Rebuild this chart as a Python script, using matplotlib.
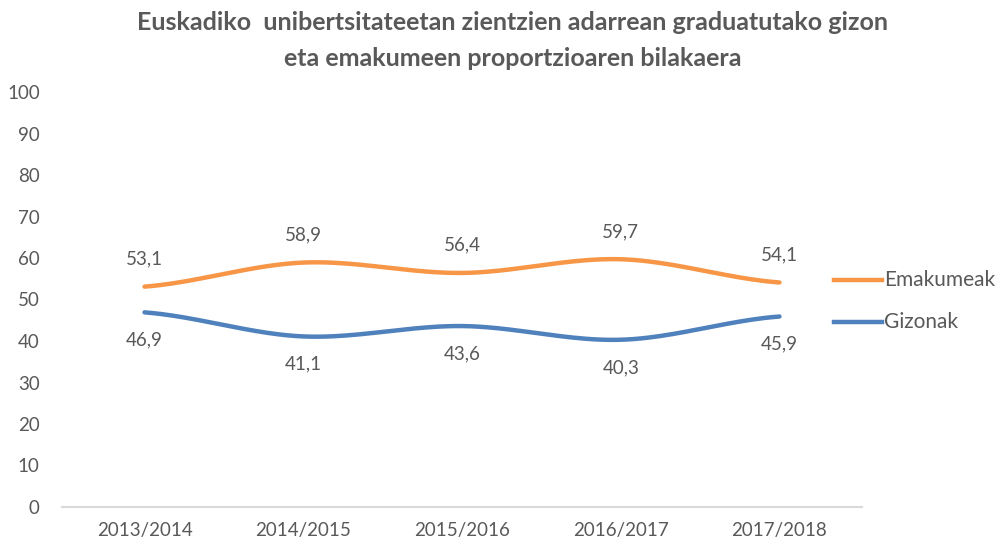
import numpy as np
import matplotlib.pyplot as plt

plt.rcParams['font.family'] = ['Lato', 'DejaVu Sans']

years = ['2013/2014', '2014/2015', '2015/2016', '2016/2017', '2017/2018']
emakumeak = [53.1, 58.9, 56.4, 59.7, 54.1]
gizonak = [46.9, 41.1, 43.6, 40.3, 45.9]

ORANGE = '#F79646'
BLUE = '#4F81BD'
GRAY = '#595959'


def smooth(y, n=40):
    # catmull-rom like excel's smoothed lines
    y = np.asarray(y, float)
    p = np.concatenate([[y[0]], y, [y[-1]]])
    xs, ys = [], []
    for i in range(len(y) - 1):
        p0, p1, p2, p3 = p[i], p[i + 1], p[i + 2], p[i + 3]
        t = np.linspace(0, 1, n, endpoint=False)
        v = 0.5 * ((2 * p1) + (-p0 + p2) * t + (2 * p0 - 5 * p1 + 4 * p2 - p3) * t ** 2
                   + (-p0 + 3 * p1 - 3 * p2 + p3) * t ** 3)
        xs.append(i + t)
        ys.append(v)
    xs.append([len(y) - 1])
    ys.append([y[-1]])
    return np.concatenate(xs), np.concatenate(ys)


fig = plt.figure(figsize=(10.05, 5.46), dpi=100)
ax = fig.add_axes([62 / 1005, 39 / 546, 800 / 1005, 415 / 546])

x = np.arange(len(years))
sx, sy = smooth(emakumeak)
ax.plot(sx, sy, color=ORANGE, lw=3.2, solid_capstyle='round')
sx, sy = smooth(gizonak)
ax.plot(sx, sy, color=BLUE, lw=3.2, solid_capstyle='round')

for i, v in enumerate(emakumeak):
    ax.annotate(f'{v:.1f}'.replace('.', ','), (x[i], v), xytext=(0, 20), textcoords='offset points',
                ha='center', va='center', fontsize=13.5, color=GRAY)
for i, v in enumerate(gizonak):
    ax.annotate(f'{v:.1f}'.replace('.', ','), (x[i], v), xytext=(0, -20), textcoords='offset points',
                ha='center', va='center', fontsize=13.5, color=GRAY)

ax.set_xlim(-0.52, len(years) - 0.48)
ax.set_ylim(0, 100)
ax.set_yticks(range(0, 101, 10))
ax.set_xticks(x)
ax.set_xticklabels(years)
ax.tick_params(axis='both', length=0, labelsize=13.5, colors=GRAY)
ax.tick_params(axis='y', pad=16)
ax.tick_params(axis='x', pad=11)
for s in ['top', 'right', 'left']:
    ax.spines[s].set_visible(False)
ax.spines['bottom'].set_color('#D9D9D9')
ax.spines['bottom'].set_linewidth(1.5)

# legend
for yy, col, lab in [(280, ORANGE, 'Emakumeak'), (322, BLUE, 'Gizonak')]:
    fy = 1 - yy / 546
    fig.add_artist(plt.Line2D([834 / 1005, 882 / 1005], [fy, fy], color=col, lw=3.2,
                              transform=fig.transFigure))
    fig.text(884 / 1005, fy, lab, fontsize=15, color=GRAY, va='center', ha='left')

fig.text(0.51, 1 - 22 / 546, 'Euskadiko  unibertsitateetan zientzien adarrean graduatutako gizon',
         ha='center', va='center', fontsize=18, fontweight='bold', color=GRAY)
fig.text(0.51, 1 - 58 / 546, 'eta emakumeen proportzioaren bilakaera',
         ha='center', va='center', fontsize=18, fontweight='bold', color=GRAY)

fig.savefig('out.png', dpi=100, facecolor='white')
